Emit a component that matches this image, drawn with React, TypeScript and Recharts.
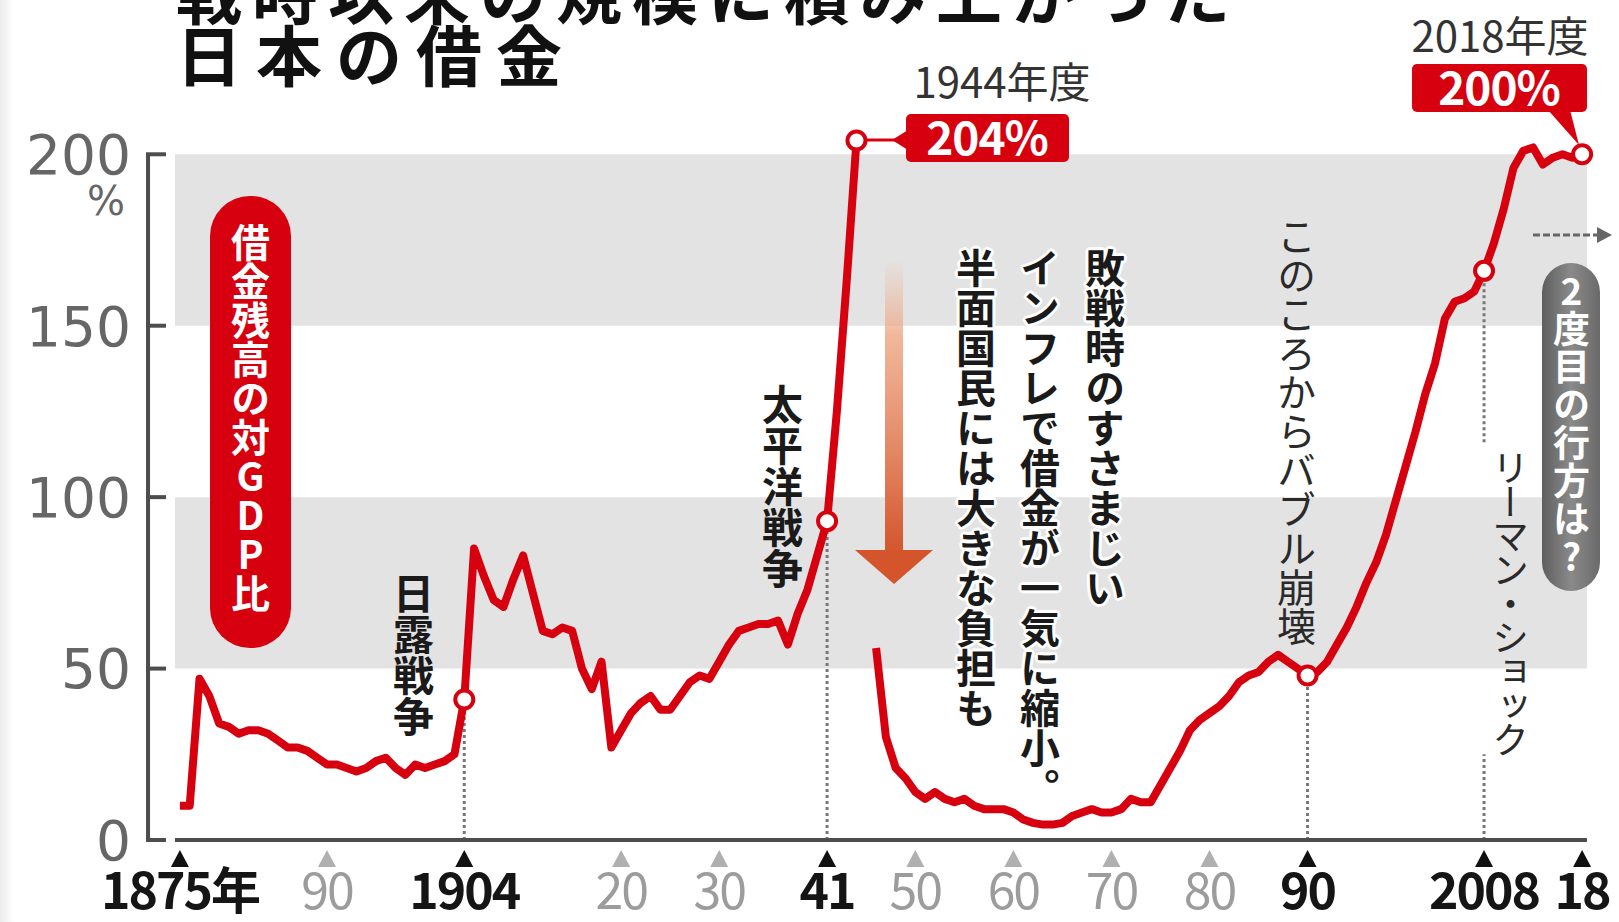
import React from "react";
import {
  LineChart,
  Line,
  XAxis,
  YAxis,
  ReferenceArea,
  ReferenceLine,
  ReferenceDot,
} from "recharts";

const JP = '"Noto Sans CJK JP", "Noto Sans", sans-serif';
const RED = "#d7000f";

// 借金残高の対GDP比（%）、1875年度から1年ごと。1945年度はデータなし
const START_YEAR = 1875;
const debtRatio: (number | null)[] = [
  // 1875-1884
  10, 10, 47, 42, 34, 33, 31, 32, 32, 31,
  // 1885-1894
  29, 27, 27, 26, 24, 22, 22, 21, 20, 21,
  // 1895-1904
  23, 24, 21, 19, 22, 21, 22, 23, 25, 41,
  // 1905-1914
  85, 77, 70, 68, 76, 83, 72, 61, 60, 62,
  // 1915-1924
  61, 50, 44, 52, 27, 32, 37, 40, 42, 38,
  // 1925-1934
  38, 42, 46, 48, 47, 52, 57, 61, 62, 63,
  // 1935-1944
  63, 64, 57, 66, 73, 83, 93, 125, 163, 204,
  // 1945-1954
  null, 56, 30, 21, 18, 14, 12, 14, 12, 11,
  // 1955-1964
  12, 10, 9, 9, 9, 8, 6, 5, 4.5, 4.5,
  // 1965-1974
  5, 7, 8, 9, 8, 8, 9, 12, 11, 11,
  // 1975-1984
  16, 21, 26, 32, 35, 37, 39, 42, 46, 48,
  // 1985-1994
  49, 52, 54, 52, 50, 48, 49, 52, 57, 62,
  // 1995-2004
  68, 75, 81, 89, 99, 109, 119, 130, 139, 152,
  // 2005-2014
  157, 158, 160, 166, 174, 184, 196, 201, 202, 197,
  // 2015-2018
  199, 200, 199, 200,
];

const tickYears = [1875, 1890, 1904, 1920, 1930, 1941, 1950, 1960, 1970, 1980, 1990, 2008, 2018];
const tickLabels = ["1875年", "90", "1904", "20", "30", "41", "50", "60", "70", "80", "90", "2008", "18"];
const tickStrong = [true, false, true, false, false, true, false, false, false, false, true, true, true];

const yTicks = [0, 50, 100, 150, 200];
const bands = [
  [50, 100],
  [150, 200],
];

const markerYears = [1904, 1941, 1944, 1990, 2008, 2018];
const dropLineYears = [1904, 1941, 1990];
// リーマン・ショックの文字の上下で点線を切る
const lehmanYear = 2008;
const lehmanTextSpan = [116, 25];

const data = debtRatio.map((v, i) => ({ year: START_YEAR + i, ratio: v }));
const valueAt = (yr: number) => debtRatio[yr - START_YEAR] as number;

function XTick(props: any) {
  const { x, y, payload } = props;
  const i = tickYears.indexOf(payload.value);
  if (i < 0) return null;
  const strong = tickStrong[i];
  return (
    <g>
      <polygon
        points={`${x - 9},${y + 27} ${x + 9},${y + 27} ${x},${y + 10}`}
        fill={strong ? "#111" : "#b0b0b0"}
      />
      <text
        x={x}
        y={y + 69}
        textAnchor="middle"
        fontFamily={JP}
        fontSize={50}
        fontWeight={strong ? 700 : 400}
        letterSpacing={-2}
        fill={strong ? "#151515" : "#9c9c9c"}
      >
        {tickLabels[i]}
      </text>
    </g>
  );
}

function YTick(props: any) {
  const { x, y, payload } = props;
  return (
    <g>
      <line x1={x - 29} x2={x - 9} y1={y} y2={y} stroke="#4d4d4d" strokeWidth={4} />
      <text
        x={x - 44}
        y={y}
        dy="0.36em"
        textAnchor="end"
        fontFamily='"DejaVu Sans", sans-serif'
        fontSize={55}
        fill="#666"
      >
        {payload.value}
      </text>
      {payload.value === 200 && (
        <text
          x={x - 50}
          y={y + 46}
          dy="0.36em"
          textAnchor="end"
          fontFamily='"DejaVu Sans", sans-serif'
          fontSize={40}
          fill="#666"
        >
          %
        </text>
      )}
    </g>
  );
}

function VText({
  text,
  cx,
  top,
  size,
  color,
  weight = 700,
  spacing = 0,
  style,
}: {
  text: string;
  cx: number;
  top: number;
  size: number;
  color: string;
  weight?: number;
  spacing?: number;
  style?: React.CSSProperties;
}) {
  return (
    <div
      style={{
        position: "absolute",
        left: cx - size / 2,
        top,
        width: size,
        writingMode: "vertical-rl",
        fontFamily: JP,
        fontSize: size,
        lineHeight: `${size}px`,
        fontWeight: weight,
        color,
        letterSpacing: spacing,
        whiteSpace: "nowrap",
        ...style,
      }}
    >
      {text}
    </div>
  );
}

const halo =
  "2px 2px 0 #fff, -2px -2px 0 #fff, 2px -2px 0 #fff, -2px 2px 0 #fff, 0 3px 0 #fff, 3px 0 0 #fff, 0 -3px 0 #fff, -3px 0 0 #fff";

export default function App() {
  return (
    <div
      style={{
        position: "absolute",
        left: 0,
        top: 0,
        width: 1619,
        height: 922,
        background: "#fff",
        overflow: "hidden",
      }}
    >
      <div
        style={{
          position: "absolute",
          left: 0,
          top: 0,
          width: 14,
          height: 922,
          background: "linear-gradient(to right, #ececec, #fff)",
        }}
      />
      <LineChart
        width={1619}
        height={922}
        data={data}
        margin={{ top: 120, right: 32, bottom: 0, left: 0 }}
      >
        {bands.map(([a, b]) => (
          <ReferenceArea
            key={a}
            y1={a}
            y2={b}
            fill="#e3e3e3"
            fillOpacity={1}
            stroke="none"
            ifOverflow="visible"
          />
        ))}
        <XAxis
          dataKey="year"
          type="number"
          domain={[1874.5, 2018.5]}
          ticks={tickYears}
          interval={0}
          height={82}
          tickSize={0}
          tickMargin={0}
          tickLine={false}
          axisLine={{ stroke: "#4d4d4d", strokeWidth: 4 }}
          tick={(p: any) => <XTick {...p} />}
        />
        <YAxis
          type="number"
          domain={[0, 210]}
          ticks={yTicks}
          width={175}
          axisLine={false}
          tickLine={false}
          tickSize={0}
          tickMargin={0}
          tick={(p: any) => <YTick {...p} />}
        />
        <ReferenceLine
          segment={[
            { x: 1871.75, y: 0 },
            { x: 1871.75, y: 200 },
          ]}
          stroke="#4d4d4d"
          strokeWidth={4}
          ifOverflow="visible"
        />
        {dropLineYears.map((yr) => (
          <ReferenceLine
            key={yr}
            segment={[
              { x: yr, y: 0 },
              { x: yr, y: valueAt(yr) },
            ]}
            stroke="#777"
            strokeWidth={3}
            strokeDasharray="3 3"
            ifOverflow="visible"
          />
        ))}
        <ReferenceLine
          segment={[
            { x: lehmanYear, y: lehmanTextSpan[0] },
            { x: lehmanYear, y: valueAt(lehmanYear) },
          ]}
          stroke="#777"
          strokeWidth={3}
          strokeDasharray="3 3"
          ifOverflow="visible"
        />
        <ReferenceLine
          segment={[
            { x: lehmanYear, y: 0 },
            { x: lehmanYear, y: lehmanTextSpan[1] },
          ]}
          stroke="#777"
          strokeWidth={3}
          strokeDasharray="3 3"
          ifOverflow="visible"
        />
        <Line
          dataKey="ratio"
          type="linear"
          stroke={RED}
          strokeWidth={8}
          strokeLinejoin="round"
          dot={false}
          activeDot={false}
          connectNulls={false}
          isAnimationActive={false}
        />
        {markerYears.map((yr) => (
          <ReferenceDot
            key={yr}
            x={yr}
            y={valueAt(yr)}
            r={9}
            fill="#fff"
            stroke={RED}
            strokeWidth={4}
            ifOverflow="visible"
          />
        ))}
      </LineChart>

      <svg
        width={1619}
        height={922}
        style={{ position: "absolute", left: 0, top: 0, pointerEvents: "none" }}
      >
        <defs>
          <linearGradient id="downArrow" x1="0" y1="0" x2="0" y2="1">
            <stop offset="0%" stopColor="#f2b08f" stopOpacity={0.05} />
            <stop offset="25%" stopColor="#eea582" stopOpacity={0.8} />
            <stop offset="100%" stopColor="#d4552c" stopOpacity={1} />
          </linearGradient>
          <linearGradient id="grayPill" x1="0" y1="0" x2="1" y2="0">
            <stop offset="0%" stopColor="#5e5e5e" />
            <stop offset="50%" stopColor="#8a8a8a" />
            <stop offset="100%" stopColor="#6a6a6a" />
          </linearGradient>
        </defs>

        <text x={176} y={19} fontFamily={JP} fontSize={66} fontWeight={700} letterSpacing={10} fill="#111">
          戦時以来の規模に積み上がった
        </text>
        <text x={176} y={81} fontFamily={JP} fontSize={66} fontWeight={700} letterSpacing={14} fill="#111">
          日本の借金
        </text>

        <rect x={210} y={196} width={81} height={452} rx={40} fill={RED} />

        <rect x={885} y={263} width={18} height={290} fill="url(#downArrow)" />
        <polygon points="855,550 933,550 894,584" fill="#d4552c" />

        <text x={1002} y={98} textAnchor="middle" fontFamily={JP} fontSize={42} fill="#333">
          1944年度
        </text>
        <line x1={866} x2={896} y1={140} y2={140} stroke={RED} strokeWidth={3} />
        <polygon points="892,140 908,130 908,150" fill={RED} />
        <rect x={906} y={114} width={163} height={48} rx={5} fill={RED} />
        <text x={987} y={155} textAnchor="middle" fontFamily={JP} fontSize={46} fontWeight={700} letterSpacing={-1} fill="#fff">
          204%
        </text>

        <text x={1500} y={52} textAnchor="middle" fontFamily={JP} fontSize={42} fill="#333">
          2018年度
        </text>
        <rect x={1412} y={64} width={175} height={48} rx={5} fill={RED} />
        <polygon points="1548,110 1570,110 1579,145" fill={RED} />
        <text x={1499} y={105} textAnchor="middle" fontFamily={JP} fontSize={46} fontWeight={700} letterSpacing={-1} fill="#fff">
          200%
        </text>

        <line x1={1533} x2={1600} y1={235} y2={235} stroke="#666" strokeWidth={3} strokeDasharray="7 3" />
        <polygon points="1597,227 1612,235 1597,243" fill="#666" />
        <rect x={1542} y={263} width={58} height={328} rx={29} fill="url(#grayPill)" />
      </svg>

      <VText text="借金残高の対GDP比" cx={250} top={223} size={39} color="#fff" style={{ textOrientation: "upright" }} />
      <VText text="日露戦争" cx={413} top={573} size={41} color="#1a1a1a" />
      <VText text="太平洋戦争" cx={782} top={384} size={41} color="#1a1a1a" />
      <VText text="敗戦時のすさまじい" cx={1105} top={248} size={40} color="#1a1a1a" style={{ textShadow: halo }} />
      <VText text="インフレで借金が一気に縮小。" cx={1040} top={248} size={40} color="#1a1a1a" style={{ textShadow: halo }} />
      <VText text="半面国民には大きな負担も" cx={976} top={248} size={40} color="#1a1a1a" style={{ textShadow: halo }} />
      <VText text="このころからバブル崩壊" cx={1296} top={217} size={39} color="#2a2a2a" weight={400} />
      <VText text="リーマン・ショック" cx={1510} top={449} size={37} color="#2a2a2a" weight={400} spacing={-3} />
      <VText text="2度目の行方は?" cx={1571} top={272} size={37} color="#fff" spacing={1} style={{ textOrientation: "upright" }} />
    </div>
  );
}
